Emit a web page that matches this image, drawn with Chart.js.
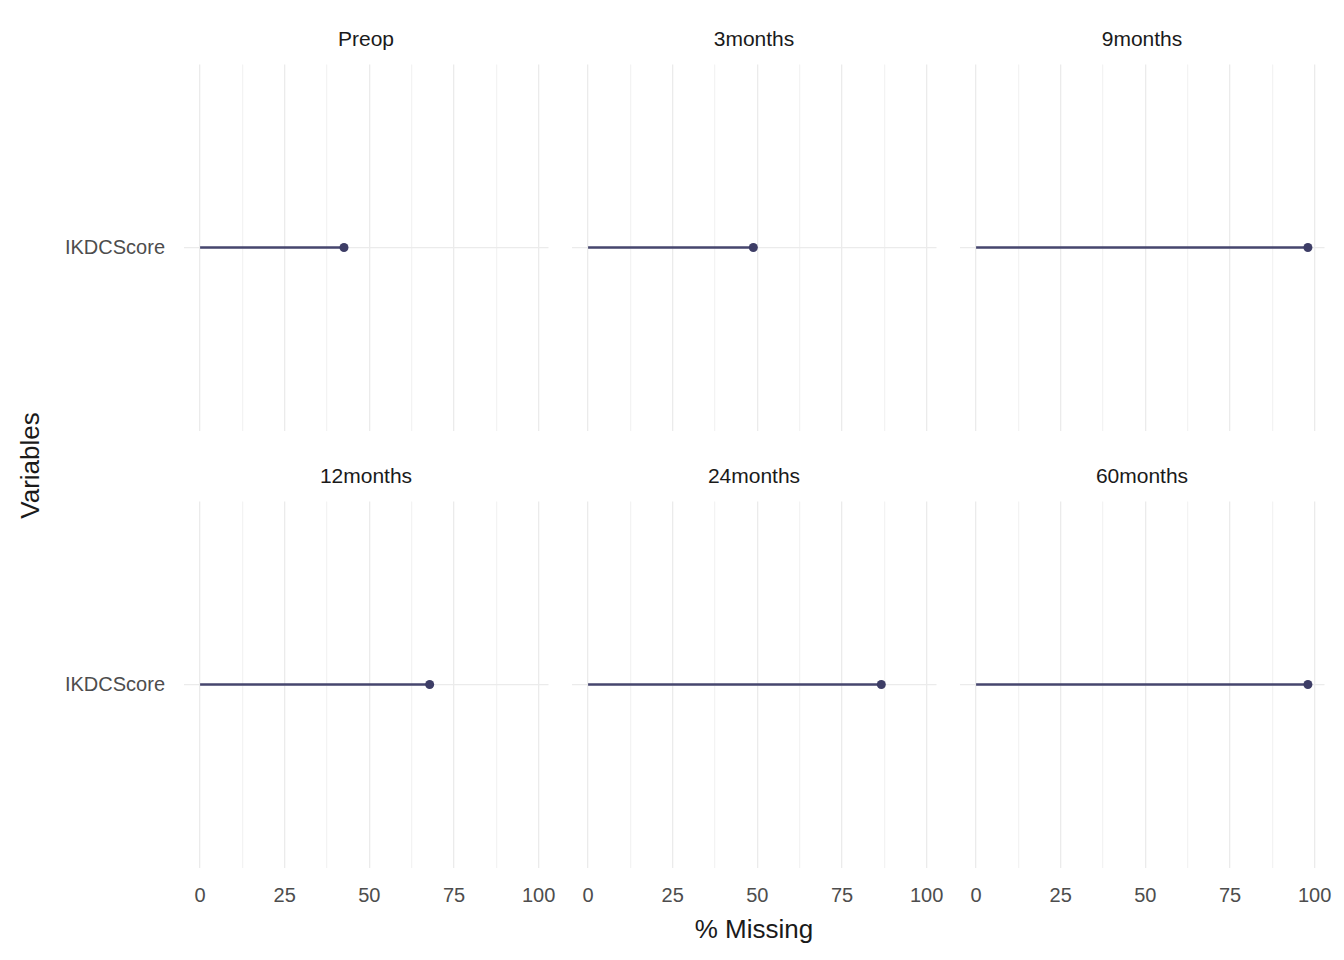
<!DOCTYPE html>
<html><head><meta charset="utf-8">
<script src="https://cdn.jsdelivr.net/npm/chart.js@4"></script>
<style>
body{margin:0;width:1344px;height:960px;background:#fff;position:relative;overflow:hidden;font-family:"Liberation Sans",Arial,sans-serif}
.c{position:absolute}
.t{position:absolute;font-size:21px;color:#1a1a1a;text-align:center;white-space:nowrap}
.k{position:absolute;font-size:20px;color:#4d4d4d;white-space:nowrap}
</style></head><body>
<script>
const panels = ['Preop','3months','9months','12months','24months','60months'];
const values = [42.5, 48.8, 98.0, 67.8, 86.6, 98.0];
const variables = ['IKDCScore'];
const xTicks = [0,25,50,75,100];

const colX=[179,567,955], plotW=374;
const rowY=[60,497], plotH=375;
function addText(cls,txt,css){const d=document.createElement('div');d.className=cls;d.textContent=txt;Object.assign(d.style,css);document.body.appendChild(d);return d;}
panels.forEach((name,i)=>{
  const col=i%3,row=Math.floor(i/3);
  const left=col===0, bottom=row===1;
  const wrap=document.createElement('div');wrap.className='c';
  const L=colX[col],T=rowY[row];
  Object.assign(wrap.style,{left:L+'px',top:T+'px',width:plotW+'px',height:plotH+'px'});
  const c2=document.createElement('canvas');wrap.appendChild(c2);document.body.appendChild(wrap);
  addText('t',name,{left:L+'px',width:plotW+'px',top:(T-33)+'px'});
  const ch=new Chart(c2,{type:'line',
    data:{labels:variables,datasets:[{data:[{x:0,y:variables[0]},{x:values[i],y:variables[0]}],
      borderColor:'#46466e',backgroundColor:'#3d3d66',borderWidth:2.5,pointRadius:[0,4.5],pointBorderWidth:0,clip:false}]},
    options:{responsive:true,maintainAspectRatio:false,animation:false,layout:{padding:0},
      plugins:{legend:{display:false},tooltip:{enabled:false}},
      scales:{
        x:{type:'linear',min:-4.9,max:102.9,
          afterBuildTicks:s=>{const a=[];for(let v=0;v<=100;v+=12.5)a.push({value:v});s.ticks=a;},
          afterFit:s=>{s.height=0;},
          border:{display:false},
          grid:{color:c=>(c.tick&&c.tick.value%25===0)?'#ebebeb':'#f3f3f3',lineWidth:1.3,drawTicks:false},
          ticks:{display:false}},
        y:{type:'category',offset:true,
          afterFit:s=>{s.width=0;},
          border:{display:false},
          grid:{color:'#ebebeb',lineWidth:1.3,drawTicks:false},
          ticks:{display:false}}
      }}});
  if(bottom){
    xTicks.forEach(v=>{
      const px=L+ch.scales.x.getPixelForValue(v);
      addText('k',String(v),{left:(px-40)+'px',width:'80px',textAlign:'center',top:(T+plotH+12)+'px'});
    });
  }
  if(left){
    variables.forEach(vn=>{
      const py=T+ch.scales.y.getPixelForValue(vn);
      addText('k',vn,{left:'0px',width:(L-14)+'px',textAlign:'right',top:(py-12)+'px'});
    });
  }
});
addText('t','% Missing',{fontSize:'26px',left:'179px',width:'1150px',top:'914px'});
addText('t','Variables',{fontSize:'26px',left:'-40px',width:'140px',top:'450px',transform:'rotate(-90deg)'});
</script>
</body></html>
